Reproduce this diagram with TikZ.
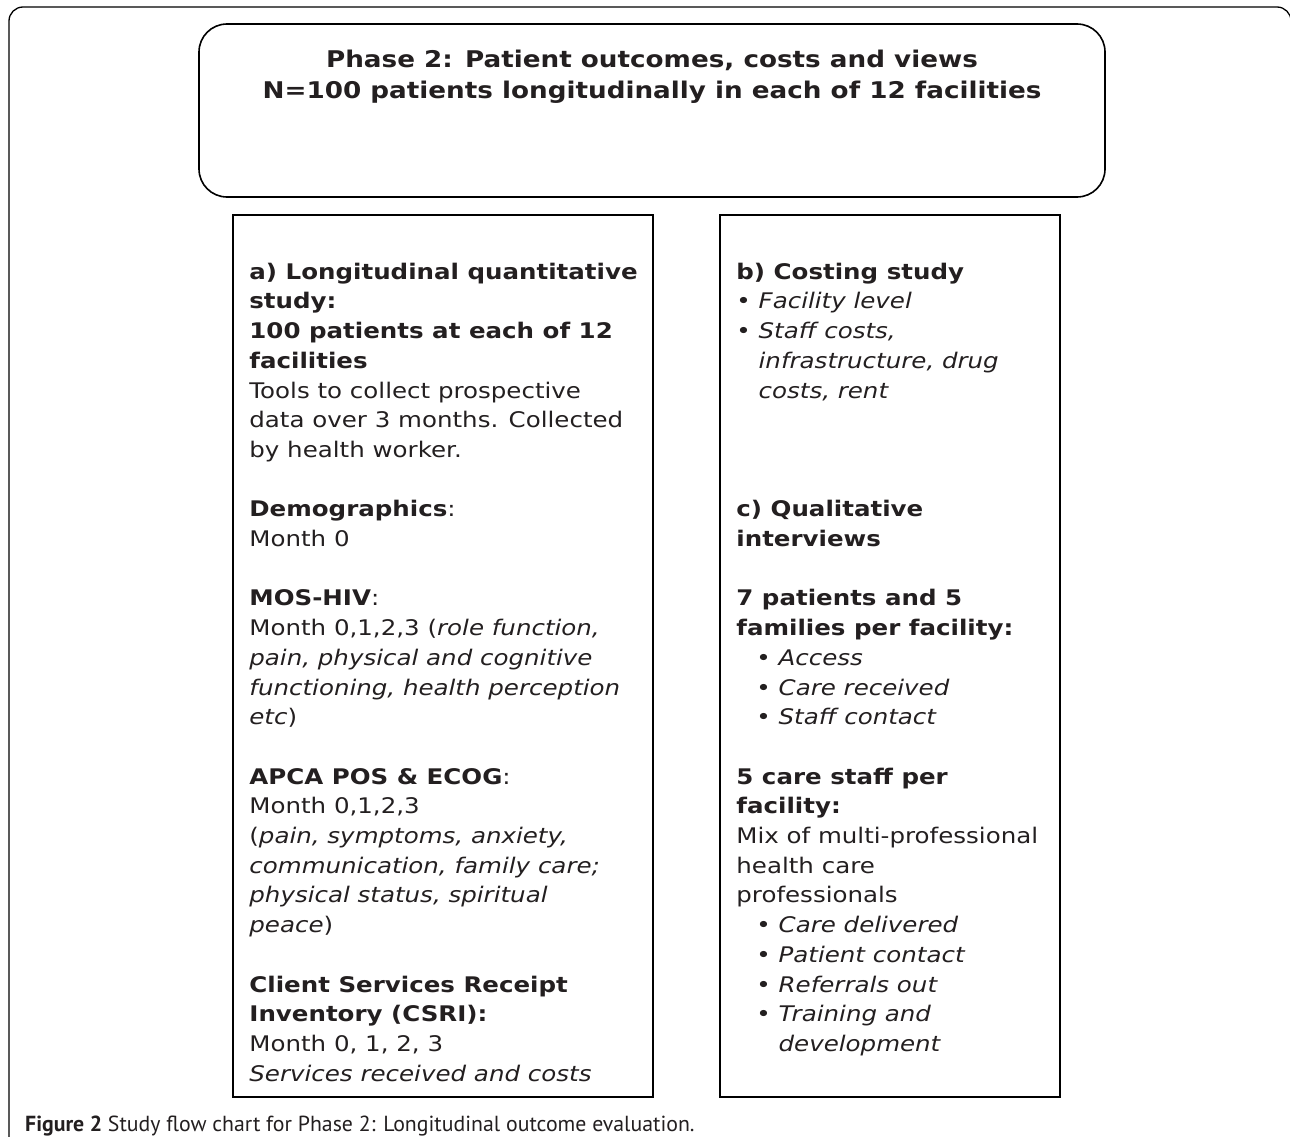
\documentclass[tikz,border=0pt]{standalone}
\usepackage{fontspec}
\setmainfont{DejaVu Sans}[FakeStretch=1.14]
\newfontfamily\capfont{PT Sans}
\usetikzlibrary{positioning}
\definecolor{ink}{HTML}{231F20}

\begin{document}
\begin{tikzpicture}[x=1pt,y=-1pt,
        studybox/.style={draw=black, line width=1.6pt, inner sep=0pt, minimum height=882pt},
        boxtext/.style={anchor=north west, align=left, inner sep=0pt, text=ink, font=\fontsize{21.5}{29.7}\selectfont}]
        \useasboundingbox (0,0) rectangle (1290,1137);

        %Rahmen
        \draw[line width=1.3pt, rounded corners=14pt] (9,1160) -- (9,7) -- (1291,7) -- (1291,1160);

        %Kopf
        \node[draw=black, line width=1.6pt, rounded corners=28pt, minimum width=906pt, minimum height=173pt] (phase) at (652,110.5) {};
        \node[anchor=north, align=center, inner sep=0pt, text=ink, font=\fontsize{23}{31.5}\selectfont\bfseries] (phasetxt) at ([yshift=-22pt]phase.north)
                {\strut Phase 2: Patient outcomes, costs and views\\ N=100 patients longitudinally in each of 12 facilities};

        %Kaesten
        \node[studybox, minimum width=420pt] (boxa) at (443,656) {};
        \node[studybox, minimum width=340pt] (boxb) at (890,656) {};

        %a) links
        \node[boxtext] (atxt) at ([shift={(17,44)}]boxa.north west) {%
                \strut\textbf{a) Longitudinal quantitative}\\
                \textbf{study:}\\
                \textbf{100 patients at each of 12}\\
                \textbf{facilities}\\
                Tools to collect prospective\\
                data over 3 months. Collected\\
                by health worker.\\[29.7pt]
                \textbf{Demographics}:\\
                Month 0\\[29.7pt]
                \textbf{MOS-HIV}:\\
                Month 0,1,2,3 (\textit{role function,}\\
                \textit{pain, physical and cognitive}\\
                \textit{functioning, health perception}\\
                \textit{etc})\\[29.7pt]
                \textbf{APCA POS \& ECOG}:\\
                Month 0,1,2,3\\
                (\textit{pain, symptoms, anxiety,}\\
                \textit{communication, family care;}\\
                \textit{physical status, spiritual}\\
                \textit{peace})\\[29.7pt]
                \textbf{Client Services Receipt}\\
                \textbf{Inventory (CSRI):}\\
                Month 0, 1, 2, 3\\
                \textit{Services received and costs}};

        %b) und c) rechts
        \node[boxtext] (btxt) at ([shift={(17,44)}]boxb.north west) {%
                \strut\textbf{b) Costing study}\\
                \textbullet\ \textit{Facility level}\\
                \textbullet\ \textit{Staff costs,}\\
                \phantom{\textbullet\ }\textit{infrastructure, drug}\\
                \phantom{\textbullet\ }\textit{costs, rent}\\[89.1pt]
                \textbf{c) Qualitative}\\
                \textbf{interviews}\\[29.7pt]
                \textbf{7 patients and 5}\\
                \textbf{families per facility:}\\
                \hspace*{20pt}\textbullet\ \textit{Access}\\
                \hspace*{20pt}\textbullet\ \textit{Care received}\\
                \hspace*{20pt}\textbullet\ \textit{Staff contact}\\[29.7pt]
                \textbf{5 care staff per}\\
                \textbf{facility:}\\
                Mix of multi-professional\\
                health care\\
                professionals\\
                \hspace*{20pt}\textbullet\ \textit{Care delivered}\\
                \hspace*{20pt}\textbullet\ \textit{Patient contact}\\
                \hspace*{20pt}\textbullet\ \textit{Referrals out}\\
                \hspace*{20pt}\textbullet\ \textit{Training and}\\
                \hspace*{20pt}\phantom{\textbullet\ }\textit{development}};

        %Bildunterschrift
        \node[anchor=base west, inner sep=0pt, text=ink, font=\capfont\fontsize{21.8}{26}\selectfont] (caption) at (25,1131)
                {\textbf{Figure 2} Study flow chart for Phase 2: Longitudinal outcome evaluation.};
\end{tikzpicture}
\end{document}
